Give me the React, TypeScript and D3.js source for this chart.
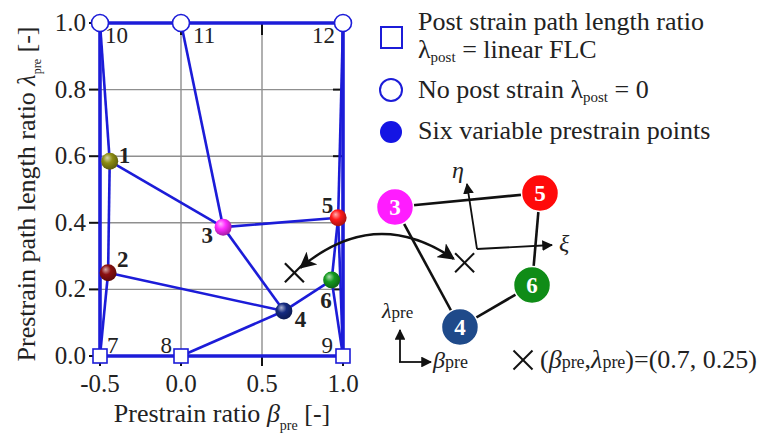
import React from "react";
import * as d3 from "d3";

const W = 762;
const H = 444;

// Mesh nodes in the prestrain plane: ratio β_pre and path length ratio λ_pre
const nodeIds = [1, 2, 3, 4, 5, 6, 7, 8, 9, 10, 11, 12];
const betaPre = [-0.44, -0.45, 0.26, 0.635, 0.97, 0.93, -0.5, 0.0, 1.0, -0.5, 0.0, 1.0];
const lambdaPre = [0.585, 0.25, 0.387, 0.135, 0.415, 0.228, 0, 0, 0, 1, 1, 1];
// "var" = variable prestrain point, "flc" = linear FLC post strain, "none" = no post strain
const nodeKind = ["var", "var", "var", "var", "var", "var", "flc", "flc", "flc", "none", "none", "none"];
const varColors = ["#8d8d14", "#8c1010", "#ff2cff", "#142a80", "#ff1a1a", "#149a1e"];

// Mesh connections between node ids
const boundaryEdges: [number, number][] = [[7, 9], [10, 12], [10, 7], [12, 9]];
const innerEdges: [number, number][] = [
  [10, 1], [1, 2], [2, 7], [1, 3], [11, 3], [3, 5], [12, 5], [3, 4],
  [2, 4], [8, 4], [4, 6], [5, 6], [5, 9], [6, 9],
];

// Evaluated point
const targetBeta = 0.7;
const targetLambda = 0.25;

const xTicks = [-0.5, 0.0, 0.5, 1.0];
const yTicks = [0.0, 0.2, 0.4, 0.6, 0.8, 1.0];
const xGrid = [0.0, 0.5];
const yGrid = [0.2, 0.4, 0.6, 0.8];

// Local element sketch (nodes 3, 5, 6, 4)
const cellIds = [3, 5, 6, 4];
const cellColors = ["#ff1cff", "#ff0a0a", "#0f8c17", "#1f4a8a"];

const BLUE = "#1c1cd8";
const FONT = "'Liberation Serif', 'DejaVu Serif', serif";

const label = {
  1: [9, 2, "start"], 2: [9, -6, "start"], 3: [-10, 16, "end"], 4: [11, 16, "start"],
  5: [-5, -5, "end"], 6: [0, 28, "end"], 7: [7, -3, "start"], 8: [-9, -3, "end"],
  9: [-10, -3, "end"], 10: [5, 20, "start"], 11: [12, 20, "start"], 12: [-8, 20, "end"],
} as Record<number, [number, number, string]>;

function Cross({ cx, cy, r, w = 2 }: { cx: number; cy: number; r: number; w?: number }) {
  return (
    <g stroke="#111" strokeWidth={w} strokeLinecap="butt">
      <line x1={cx - r} y1={cy - r} x2={cx + r} y2={cy + r} />
      <line x1={cx - r} y1={cy + r} x2={cx + r} y2={cy - r} />
    </g>
  );
}

export default function App() {
  const x = d3.scaleLinear().domain([-0.5, 1.0]).range([100, 343]);
  const y = d3.scaleLinear().domain([0, 1]).range([356, 23]);
  const pos = (id: number): [number, number] => {
    const i = nodeIds.indexOf(id);
    return [x(betaPre[i]), y(lambdaPre[i])];
  };
  const seg = d3.line<[number, number]>();

  const tx = x(targetBeta);
  const ty = y(targetLambda);

  // Schematic element positions in the sketch to the right of the plot
  const sx = d3.scaleLinear().domain([0, 1]).range([395, 540]);
  const sy = d3.scaleLinear().domain([0, 1]).range([327, 193]);
  const cellU = [0, 1, 0.945, 0.448];
  const cellV = [0.895, 1, 0.313, 0];
  const cellPos = (k: number): [number, number] => [sx(cellU[k]), sy(cellV[k])];
  const cellEdges: [number, number][] = [[0, 1], [1, 2], [2, 3], [3, 0]];

  const sketchX = [sx(0.48), sy(0.48)];

  const arrowPath = d3.path();
  arrowPath.moveTo(tx + 6, ty - 5);
  arrowPath.quadraticCurveTo(375, 205, sketchX[0] - 11, sketchX[1] - 4);

  return (
    <svg width={W} height={H} style={{ position: "absolute", left: 0, top: 0, background: "#fff" }}
      fontFamily={FONT}>
      <defs>
        <marker id="ah" viewBox="0 0 10 10" refX="9" refY="5" markerWidth="7" markerHeight="7"
          orient="auto-start-reverse" markerUnits="strokeWidth">
          <path d="M0,0 L10,5 L0,10 L2.5,5 Z" fill="#111" />
        </marker>
        <marker id="ahs" viewBox="0 0 10 10" refX="9" refY="5" markerWidth="6" markerHeight="6"
          orient="auto" markerUnits="strokeWidth">
          <path d="M0,0 L10,5 L0,10 Z" fill="#111" />
        </marker>
        {varColors.map((c, i) => (
          <radialGradient key={i} id={`sph${i}`} cx="0.42" cy="0.38" r="0.62" fx="0.35" fy="0.3">
            <stop offset="0" stopColor={d3.interpolateRgb(c, "#fff")(0.65)} />
            <stop offset="0.45" stopColor={c} />
            <stop offset="1" stopColor={d3.interpolateRgb(c, "#000")(0.35)} />
          </radialGradient>
        ))}
      </defs>

      {/* grid */}
      <g stroke="#8f8f8f" strokeWidth={1.4}>
        {xGrid.map((v) => (
          <line key={`gx${v}`} x1={x(v)} x2={x(v)} y1={y(0)} y2={y(1)} />
        ))}
        {yGrid.map((v) => (
          <line key={`gy${v}`} x1={x(-0.5)} x2={x(1)} y1={y(v)} y2={y(v)} />
        ))}
      </g>

      {/* ticks: outward on left/bottom, inward on right/top */}
      <g stroke="#111" strokeWidth={2}>
        {yTicks.map((v) => (
          <g key={`ty${v}`}>
            <line x1={x(-0.5) - 11} x2={x(-0.5)} y1={y(v)} y2={y(v)} />
            <line x1={x(1) - 10} x2={x(1)} y1={y(v)} y2={y(v)} />
          </g>
        ))}
        {xTicks.map((v) => (
          <g key={`tx${v}`}>
            <line x1={x(v)} x2={x(v)} y1={y(0)} y2={y(0) + 10} />
            <line x1={x(v)} x2={x(v)} y1={y(1)} y2={y(1) + 12} />
          </g>
        ))}
      </g>

      {/* tick labels */}
      <g fontSize={25} fill="#222">
        {yTicks.map((v) => (
          <text key={`ly${v}`} x={x(-0.5) - 14} y={y(v) + 8} textAnchor="end">
            {d3.format(".1f")(v)}
          </text>
        ))}
        {xTicks.map((v) => (
          <text key={`lx${v}`} x={x(v)} y={y(0) + 36} textAnchor="middle">
            {d3.format(".1f")(v).replace("−", "-")}
          </text>
        ))}
      </g>

      {/* axis titles */}
      <text x={222} y={422} textAnchor="middle" fontSize={26} fill="#222">
        Prestrain ratio <tspan fontStyle="italic">β</tspan>
        <tspan fontSize={14} dy={8}>pre</tspan>
        <tspan dy={-8}> [-]</tspan>
      </text>
      <text transform="translate(35,194) rotate(-90)" textAnchor="middle" fontSize={26} fill="#222">
        Prestrain path length ratio <tspan fontStyle="italic">λ</tspan>
        <tspan fontSize={12} dy={6}>pre</tspan>
        <tspan dy={-6}> [-]</tspan>
      </text>

      {/* mesh */}
      <g fill="none" stroke={BLUE} strokeLinejoin="round">
        {innerEdges.map(([a, b], i) => (
          <path key={`ie${i}`} d={seg([pos(a), pos(b)]) ?? ""} strokeWidth={2.6} />
        ))}
        {boundaryEdges.map(([a, b], i) => (
          <path key={`be${i}`} d={seg([pos(a), pos(b)]) ?? ""} strokeWidth={3.6} />
        ))}
      </g>

      {/* evaluated point and link to the element sketch */}
      <Cross cx={tx} cy={ty} r={9.5} w={2.2} />
      <path d={arrowPath.toString()} fill="none" stroke="#111" strokeWidth={2.4}
        markerStart="url(#ah)" markerEnd="url(#ah)" />

      {/* nodes */}
      {nodeIds.map((id, i) => {
        const [px, py] = pos(id);
        const kind = nodeKind[i];
        if (kind === "flc")
          return <rect key={id} x={px - 7} y={py - 7} width={14} height={14} fill="#fff" stroke={BLUE} strokeWidth={1.6} />;
        if (kind === "none")
          return <circle key={id} cx={px} cy={py} r={8.5} fill="#fff" stroke={BLUE} strokeWidth={1.6} />;
        return <circle key={id} cx={px} cy={py} r={8.5} fill={`url(#sph${i})`} />;
      })}

      {/* node labels */}
      {nodeIds.map((id, i) => {
        const [px, py] = pos(id);
        const [dx, dy, anchor] = label[id];
        return (
          <text key={`nl${id}`} x={px + dx} y={py + dy} textAnchor={anchor as any}
            fontSize={23} fontWeight={nodeKind[i] === "var" ? "bold" : "normal"} fill="#222">
            {id}
          </text>
        );
      })}

      {/* legend */}
      <g fontSize={26} fill="#222">
        <rect x={381} y={27} width={21} height={21} fill="#fff" stroke={BLUE} strokeWidth={2} />
        <text x={418} y={30}>Post strain path length ratio</text>
        <text x={418} y={58}>
          λ<tspan fontSize={15} dy={4}>post</tspan>
          <tspan dy={-4}> = linear FLC</tspan>
        </text>
        <circle cx={391} cy={90} r={11} fill="#fff" stroke={BLUE} strokeWidth={2} />
        <text x={418} y={98}>
          No post strain λ<tspan fontSize={15} dy={4}>post</tspan>
          <tspan dy={-4}> = 0</tspan>
        </text>
        <circle cx={391} cy={132} r={11} fill="#1414e4" />
        <text x={418} y={139}>Six variable prestrain points</text>
      </g>

      {/* element sketch */}
      <g stroke="#111" strokeWidth={2.6}>
        {cellEdges.map(([a, b], i) => (
          <path key={`ce${i}`} d={seg([cellPos(a), cellPos(b)]) ?? ""} />
        ))}
      </g>
      {/* local coordinate system η-ξ */}
      <g stroke="#111" strokeWidth={1.8} fill="none">
        <path d="M477,249 L467,184" markerEnd="url(#ahs)" />
        <path d="M477,249 L552,245" markerEnd="url(#ahs)" />
      </g>
      <text x={452} y={178} fontSize={24} fontStyle="italic" fill="#222">η</text>
      <text x={559} y={251} fontSize={24} fontStyle="italic" fill="#222">ξ</text>
      <Cross cx={sketchX[0]} cy={sketchX[1]} r={9.5} w={2} />
      {cellIds.map((id, k) => {
        const [cx, cy] = cellPos(k);
        return (
          <g key={`cn${id}`}>
            <circle cx={cx} cy={cy} r={18.5} fill={cellColors[k]} stroke="#fff" strokeWidth={1.5} />
            <text x={cx} y={cy + 8} textAnchor="middle" fontSize={23} fontWeight="bold" fill="#fff">{id}</text>
          </g>
        );
      })}

      {/* global axes β_pre, λ_pre */}
      <g stroke="#111" strokeWidth={1.8} fill="none">
        <path d="M400,362 L400,330" markerEnd="url(#ahs)" />
        <path d="M399,362 L431,362" markerEnd="url(#ahs)" />
      </g>
      <text x={382} y={318} fontSize={22} fill="#222">
        <tspan fontStyle="italic">λ</tspan><tspan fontSize={17}>pre</tspan>
      </text>
      <text x={433} y={368} fontSize={24} fill="#222">
        <tspan fontStyle="italic">β</tspan><tspan fontSize={18}>pre</tspan>
      </text>

      {/* evaluated point coordinates */}
      <Cross cx={523} cy={360} r={9.5} w={2} />
      <text x={540} y={368} fontSize={26} fill="#222">
        (<tspan fontStyle="italic">β</tspan><tspan fontSize={18}>pre</tspan>,
        <tspan fontStyle="italic">λ</tspan><tspan fontSize={18}>pre</tspan>)=({targetBeta}, {targetLambda})
      </text>
    </svg>
  );
}
